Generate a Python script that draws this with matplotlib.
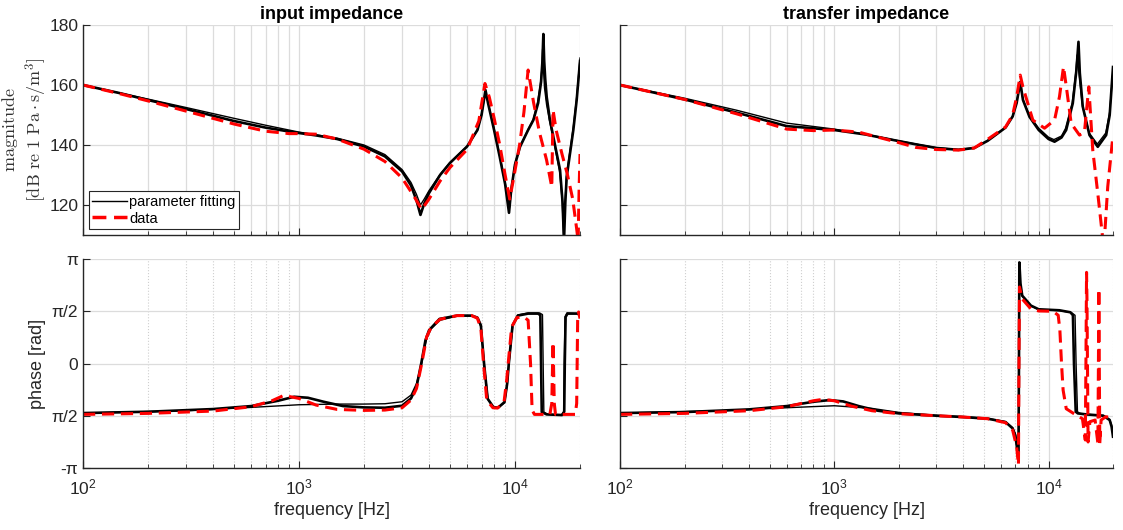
# impedance fit vs measured data, input and transfer impedance
import numpy as np
import matplotlib.pyplot as plt

plt.rcParams['font.family'] = ['Liberation Sans', 'DejaVu Sans']
plt.rcParams['mathtext.fontset'] = 'custom'
plt.rcParams['mathtext.rm'] = 'Liberation Sans'

# ---- input impedance, magnitude [dB] ----
in_mag_fa_f = [100, 150, 200, 300, 500, 700, 900, 1000, 1200, 1500, 2000, 2500, 3000, 3300,
               3500, 3650, 3800, 4000, 4500, 5000, 6000, 6700, 7000, 7300, 7500, 8000, 8500,
               9000, 9380, 9600, 10000, 10550, 11500, 12160, 12800, 13200, 13400, 13530, 13650,
               13800, 14020, 14500, 15040, 16160, 16600, 16860, 17100, 17350, 18000, 18620,
               19300, 20000]
in_mag_fa = [160, 157.2, 155, 152, 148, 145.8, 144.5, 144, 143.2, 142, 139.5, 136.2, 131.2, 126.5,
             121.5, 116.7, 120.5, 124, 130, 134, 139.5, 145, 150, 158.3, 154, 145, 136,
             127, 117.4, 125, 133.5, 139.4, 145, 148.3, 154, 161, 168, 177, 168,
             162, 156, 148.5, 142.8, 131.7, 121, 108, 121, 129.4, 137.5, 145,
             155, 168]
in_mag_fb_f = [100, 200, 300, 500, 700, 1000, 1500, 2000, 2500, 3000, 3300, 3500, 3650, 3800,
               4000, 4500, 5000, 6000, 6700, 7000, 7300, 7500, 8000, 8500, 9000, 9420, 9650,
               10000, 10550, 11500, 12160, 12700, 13100, 13300, 13420, 13550, 13700, 14000,
               14500, 15040, 16100, 16550, 16800, 17050, 17350, 18000, 18620, 19300, 20000]
in_mag_fb = [160, 155.3, 152.5, 148.9, 146.6, 144.3, 142.3, 140, 136.8, 131.8, 127.5, 123.5, 120, 122,
             124.8, 130.2, 134.2, 139.6, 145, 150.2, 157.6, 154.2, 145.5, 136.5, 127.5, 119, 126,
             133.8, 139.6, 145.2, 148.6, 154, 160, 165, 172, 165, 159, 153.5,
             147.5, 142, 131, 121, 109, 121, 130.5, 138.5, 146, 156, 169]
in_mag_data_f = [100, 150, 200, 300, 500, 700, 900, 1000, 1200, 1500, 2000, 2500, 3000, 3400,
                 3700, 4000, 4500, 5000, 6000, 6800, 7260, 7600, 8000, 8500, 9000, 9450, 9800,
                 10500, 11000, 11500, 12200, 13000, 14000, 14800, 15000, 15500, 16500, 17500,
                 18500, 19300, 19600, 19800, 20000]
in_mag_data = [160, 157, 154.7, 151.3, 147, 144.6, 143.8, 143.8, 143.6, 142, 138.6, 134.5, 129, 123,
               118.5, 122, 128, 132.5, 138.5, 148, 160.5, 156, 149, 140, 130, 122, 128,
               140, 151, 165, 154, 144, 135, 126, 151.7, 145, 137, 130,
               122, 112, 108, 125, 137]

# ---- input impedance, phase [rad] ----
in_ph_fa_f = [100, 200, 400, 600, 800, 950, 1100, 1300, 1600, 2000, 2500, 3000, 3300, 3500, 3680,
              3850, 4000, 4470, 5400, 6300, 6700, 6950, 7190, 7470, 7940, 8340, 8940, 9200, 9360,
              9740, 10300, 11500, 12800, 13100, 13200, 13300, 14000, 16500, 16900, 17000, 17150,
              17500, 19500, 20000]
in_ph_fa = [-1.49, -1.45, -1.37, -1.28, -1.12, -1.0, -1.03, -1.15, -1.28, -1.32, -1.33, -1.27, -1.05, -0.7, 0.0,
            0.7, 1.0, 1.34, 1.44, 1.44, 1.38, 1.15, 0.0, -1.06, -1.31, -1.33, -1.16, -0.6, 0.0,
            1.14, 1.44, 1.5, 1.5, 1.45, 0.0, -1.46, -1.53, -1.55, -1.45, 0.0, 1.4,
            1.5, 1.5, 1.45]
in_ph_fb_f = [100, 300, 600, 1000, 1500, 2000, 2500, 3000, 3300, 3500, 3700, 3900, 4100, 4500,
              5400, 6300, 6700, 6950, 7200, 7500, 7940, 8340, 8940, 9200, 9380, 9760, 10300,
              11500, 13000, 13400, 13500, 13600, 14200, 16400, 16800, 16900, 17050, 17400, 20000]
in_ph_fb = [-1.49, -1.42, -1.32, -1.24, -1.22, -1.22, -1.21, -1.15, -0.95, -0.6, 0.0, 0.75, 1.05, 1.3,
            1.43, 1.43, 1.36, 1.1, 0.0, -1.08, -1.31, -1.34, -1.18, -0.65, 0.0, 1.12, 1.46,
            1.52, 1.52, 1.47, 0.0, -1.46, -1.53, -1.55, -1.45, 0.0, 1.4, 1.52, 1.5]
in_ph_data_f = [100, 200, 400, 600, 750, 850, 1000, 1200, 1500, 2000, 2500, 3000, 3300, 3500, 3700,
                3900, 4100, 4500, 5400, 6300, 6700, 6950, 7150, 7400, 7900, 8300, 8900, 9150, 9300,
                9650, 10200, 11000, 11500, 11800, 12000, 12300, 14500, 14800, 15000, 15200, 15400,
                19000, 19300, 19500, 19700, 20000]
in_ph_data = [-1.53, -1.5, -1.43, -1.3, -1.12, -0.96, -1.05, -1.25, -1.38, -1.41, -1.4, -1.33, -1.1, -0.75, 0.0,
              0.8, 1.1, 1.33, 1.44, 1.44, 1.36, 1.05, 0.0, -1.1, -1.33, -1.34, -1.15, -0.5, 0.0,
              1.1, 1.38, 1.4, 1.3, 0.0, -1.4, -1.53, -1.53, -1.2, 0.64, -1.2, -1.53,
              -1.53, -1.2, 1.3, 1.55, 1.35]

# ---- transfer impedance, magnitude [dB] ----
tr_mag_fa_f = [100, 200, 350, 600, 1000, 1400, 2000, 2500, 3000, 3800, 4500, 5200, 6300, 6800,
               7100, 7380, 7600, 8150, 9000, 10000, 10670, 11500, 12090, 12980, 13500, 13800,
               14000, 14450, 15530, 16980, 18580, 19300, 20000]
tr_mag_fa = [160, 155.2, 150.8, 146.3, 145, 143.5, 141.3, 140, 139, 138.4, 139, 141.4, 145.8, 149.5,
             154, 161, 155, 149.4, 145, 142, 141.1, 142.5, 145, 153.9, 165, 174.4,
             164, 152.8, 143.3, 139.4, 143.3, 150, 166]
tr_mag_fb_f = [100, 200, 350, 600, 1000, 1400, 2000, 2500, 3000, 3800, 4500, 5200, 6300, 6800,
               7100, 7350, 7600, 8150, 9000, 10000, 10600, 11500, 12000, 12900, 13400, 13600,
               13900, 14400, 15500, 16900, 18500, 19300, 20000]
tr_mag_fb = [160, 155.6, 151.6, 147.3, 145.3, 143.6, 141.4, 140.1, 139.1, 138.5, 139.1, 141.5, 145.9, 149.6,
             154.2, 160.5, 155.2, 149.8, 145.6, 142.6, 141.8, 143, 145.5, 154, 164, 170,
             163, 153, 144, 140.3, 144, 151, 165]
tr_mag_data_f = [100, 200, 350, 600, 800, 1000, 1300, 2000, 2400, 3000, 3800, 4500, 5200, 6300,
                 6800, 7100, 7380, 7590, 8450, 9580, 10670, 11250, 11750, 12170, 12760, 13950,
                 14720, 15420, 16090, 16980, 17800, 18100, 18900, 20000]
tr_mag_data = [160, 155.2, 150.4, 145.3, 144.8, 145, 144.3, 140.8, 139.2, 138.5, 138.3, 139, 141.9, 146,
               150, 156, 163.3, 159.4, 148.3, 145.6, 148.3, 156.1, 166.1, 158.3, 147.2, 143.3,
               144.4, 159.4, 138.3, 123.9, 110.6, 105, 126.1, 143.3]

# ---- transfer impedance, phase [rad] ----
tr_ph_fa_f = [100, 200, 400, 600, 800, 950, 1100, 1300, 1600, 2000, 3000, 4000, 5200, 6300, 6800,
              7000, 7240, 7280, 7310, 7400, 7540, 8280, 9000, 11250, 12650, 13000, 13150, 13400,
              13700, 15000, 18000, 19300, 19700, 20000]
tr_ph_fa = [-1.49, -1.46, -1.38, -1.28, -1.15, -1.1, -1.14, -1.28, -1.42, -1.5, -1.57, -1.61, -1.66, -1.76, -1.95,
            -2.16, -2.86, 0.0, 3.04, 2.4, 2.04, 1.74, 1.63, 1.6, 1.54, 1.45, 0.0, -1.45,
            -1.5, -1.53, -1.57, -1.7, -1.9, -2.2]
tr_ph_fb_f = [100, 300, 600, 1000, 1500, 2000, 3000, 4000, 5200, 6300, 6800, 7000, 7240, 7280,
              7310, 7400, 7540, 8280, 9000, 11250, 12800, 13300, 13450, 13650, 14000, 15000,
              18000, 19300, 19700, 20000]
tr_ph_fb = [-1.49, -1.42, -1.33, -1.27, -1.35, -1.47, -1.56, -1.6, -1.65, -1.75, -1.93, -2.12, -2.8, 0.0,
            2.95, 2.35, 2.02, 1.73, 1.62, 1.59, 1.53, 1.45, 0.0, -1.45, -1.5, -1.53,
            -1.56, -1.68, -1.85, -2.1]
tr_ph_data_f = [100, 200, 400, 600, 800, 880, 1000, 1200, 1500, 2000, 3000, 4000, 5200, 6300, 6800,
                7100, 7240, 7280, 7320, 7540, 8280, 9000, 10500, 11100, 11300, 11500, 11700, 12100,
                13150, 14400, 14850, 14950, 15050, 15120, 15200, 15300, 15600, 16500, 17000, 17100,
                17180, 17260, 17350, 17600, 18500, 19500, 20000]
tr_ph_data = [-1.53, -1.5, -1.42, -1.3, -1.12, -1.08, -1.12, -1.28, -1.42, -1.51, -1.57, -1.61, -1.66, -1.78, -2.0,
              -2.5, -3.05, 0.0, 2.3, 1.94, 1.64, 1.58, 1.57, 1.45, 1.0, 0.0, -0.8, -1.36,
              -1.51, -1.66, -2.3, 0.0, 2.74, 1.9, 0.0, -2.36, -1.75, -1.7, -2.4, 0.0,
              2.24, 0.0, -2.4, -1.7, -1.6, -1.62, -1.68]

mag_ticks = [120, 140, 160, 180]
ph_ticks = [-np.pi, -np.pi / 2, 0, np.pi / 2, np.pi]
ph_labels = ['-π', 'π/2', '0', 'π/2', 'π']

AX_COL = '#262626'
GRID_COL = '#dcdcdc'

fig = plt.figure(figsize=(11.23, 5.30), dpi=100)
ax_in_mag = fig.add_axes([0.0739, 0.5566, 0.4426, 0.3962])
ax_tr_mag = fig.add_axes([0.5521, 0.5566, 0.4390, 0.3962])
ax_in_ph = fig.add_axes([0.0739, 0.1170, 0.4426, 0.3943])
ax_tr_ph = fig.add_axes([0.5521, 0.1170, 0.4390, 0.3943])


def style(ax, top):
    ax.set_xscale('log')
    ax.set_xlim(100, 20000)
    for s in ['top', 'right']:
        ax.spines[s].set_visible(False)
    for s in ['left', 'bottom']:
        ax.spines[s].set_color(AX_COL)
        ax.spines[s].set_linewidth(1.0)
    ax.tick_params(which='both', direction='in', colors=AX_COL, labelsize=12.5)
    ax.tick_params(which='major', length=5)
    ax.tick_params(which='minor', length=3)
    ax.tick_params(axis='x', which='major', pad=7)
    ax.grid(True, which='major', color=GRID_COL, linewidth=0.9)
    if top:
        ax.grid(True, which='minor', axis='x', color=GRID_COL, linewidth=0.9)
        ax.tick_params(axis='x', labelbottom=False)
    else:
        ax.grid(True, which='minor', axis='x', color='#cfcfcf', linewidth=0.8, linestyle=':')
    ax.set_axisbelow(True)


def draw(ax, fa_f, fa, fb_f, fb, d_f, d):
    ax.plot(fa_f, fa, color='black', linewidth=1.9, label='parameter fitting')
    ax.plot(fb_f, fb, color='black', linewidth=1.0)
    ax.plot(d_f, d, color='red', linewidth=2.2, linestyle=(0, (4, 2.2)), label='data')


draw(ax_in_mag, in_mag_fa_f, in_mag_fa, in_mag_fb_f, in_mag_fb, in_mag_data_f, in_mag_data)
draw(ax_tr_mag, tr_mag_fa_f, tr_mag_fa, tr_mag_fb_f, tr_mag_fb, tr_mag_data_f, tr_mag_data)
draw(ax_in_ph, in_ph_fa_f, in_ph_fa, in_ph_fb_f, in_ph_fb, in_ph_data_f, in_ph_data)
draw(ax_tr_ph, tr_ph_fa_f, tr_ph_fa, tr_ph_fb_f, tr_ph_fb, tr_ph_data_f, tr_ph_data)

for ax in (ax_in_mag, ax_tr_mag):
    style(ax, True)
    ax.set_ylim(110, 180)
    ax.set_yticks(mag_ticks)
for ax in (ax_in_ph, ax_tr_ph):
    style(ax, False)
    ax.set_ylim(-np.pi, np.pi)
    ax.set_yticks(ph_ticks)
    ax.set_yticklabels(ph_labels)
    ax.set_xlabel('frequency [Hz]', fontsize=13, color=AX_COL, labelpad=3)
ax_tr_mag.tick_params(axis='y', labelleft=False)
ax_tr_ph.tick_params(axis='y', labelleft=False)

ax_in_mag.set_title('input impedance', fontsize=13, fontweight='bold', pad=4)
ax_tr_mag.set_title('transfer impedance', fontsize=13, fontweight='bold', pad=4)

ax_in_mag.set_ylabel('$\\mathrm{magnitude}$\n$[\\mathrm{dB\\ re\\ 1\\ Pa}\\cdot\\mathrm{s/m}^3]$',
                     fontsize=13, color='#333333', math_fontfamily='cm')
ax_in_mag.yaxis.set_label_coords(-0.068, 0.5)
ax_in_ph.set_ylabel('phase [rad]', fontsize=13, color=AX_COL, labelpad=4)

leg = ax_in_mag.legend(loc='lower left', fontsize=10.5, frameon=True, fancybox=False,
                       framealpha=1, edgecolor=AX_COL, borderaxespad=0.4,
                       handlelength=2.4, handletextpad=0.1, borderpad=0.25, labelspacing=0.2)
leg.get_frame().set_linewidth(0.8)
for h in leg.get_lines():
    h.set_linewidth(1.0 if h.get_color() == 'black' else 2.5)

fig.savefig('out.png', dpi=100)
